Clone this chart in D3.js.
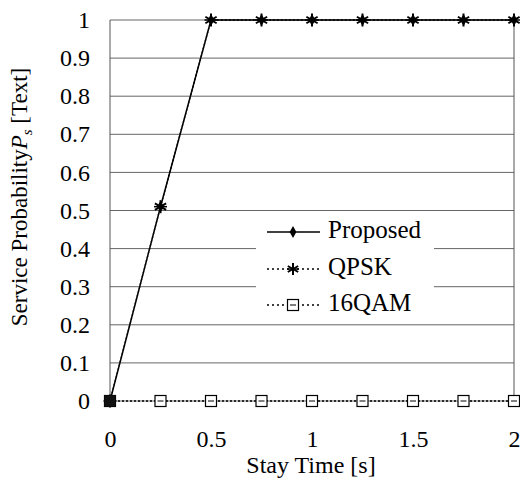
<!DOCTYPE html>
<html><head><meta charset="utf-8">
<script src="https://cdn.jsdelivr.net/npm/d3@7"></script>
<style>body{margin:0;background:#fff}svg{display:block}text{font-family:"Liberation Serif","Times New Roman",serif;fill:#000}</style>
</head><body><svg id="c" width="520" height="482"></svg>
<script>
const stayTime = [0, 0.25, 0.5, 0.75, 1, 1.25, 1.5, 1.75, 2];
const proposed = [0, 0.51, 1, 1, 1, 1, 1, 1, 1];
const qpsk = [0, 0.51, 1, 1, 1, 1, 1, 1, 1];
const qam16 = [0, 0, 0, 0, 0, 0, 0, 0, 0];
const xTicks = [0, 0.5, 1, 1.5, 2];
const yTicks = [0, 0.1, 0.2, 0.3, 0.4, 0.5, 0.6, 0.7, 0.8, 0.9, 1];
const seriesNames = ["Proposed", "QPSK", "16QAM"];

const svg = d3.select("#c");
const x = d3.scaleLinear().domain([0, 2]).range([110, 514]);
const y = d3.scaleLinear().domain([0, 1]).range([401, 20]);

// gridlines
svg.append("g").selectAll("line").data(yTicks).join("line")
  .attr("x1", x(0)).attr("x2", x(2)).attr("y1", d => y(d)).attr("y2", d => y(d))
  .attr("stroke", "#666").attr("stroke-width", 1);
svg.append("line").attr("x1", x(0)).attr("x2", x(0)).attr("y1", y(0)).attr("y2", y(1)).attr("stroke", "#555");
svg.append("line").attr("x1", x(2)).attr("x2", x(2)).attr("y1", y(0)).attr("y2", y(1)).attr("stroke", "#555");

// axes (labels only)
const yAxis = svg.append("g").attr("transform", `translate(${x(0)},0)`)
  .call(d3.axisLeft(y).tickValues(yTicks).tickSize(0).tickPadding(20).tickFormat(d3.format("~g")));
yAxis.select(".domain").remove();
yAxis.attr("font-family", null).attr("font-size", null);
yAxis.selectAll("text").style("font-size", "24px");
const xAxis = svg.append("g").attr("transform", `translate(0,${y(0)})`)
  .call(d3.axisBottom(x).tickValues(xTicks).tickSize(0).tickPadding(29).tickFormat(d3.format("~g")));
xAxis.select(".domain").remove();
xAxis.attr("font-family", null).attr("font-size", null);
xAxis.selectAll("text").style("font-size", "24px");

// titles
svg.append("text").attr("x", 311).attr("y", 473).attr("text-anchor", "middle").style("font-size", "24px").text("Stay Time [s]");
const yt = svg.append("text").attr("transform", "translate(27,197) rotate(-90)").attr("text-anchor", "middle").style("font-size", "23px");
yt.append("tspan").text("Service Probability");
yt.append("tspan").style("font-style", "italic").text("P");
yt.append("tspan").style("font-style", "italic").style("font-size", "15px").attr("dy", 5).text("s");
yt.append("tspan").attr("dy", -5).text(" [Text]");

const line = d3.line().x((d, i) => x(stayTime[i])).y(d => y(d));

function star(g, cx, cy, r) {
  const a = [0, 60, 120].map(t => t * Math.PI / 180);
  a.forEach(t => g.append("line").attr("x1", cx - r * Math.sin(t)).attr("y1", cy - r * Math.cos(t))
    .attr("x2", cx + r * Math.sin(t)).attr("y2", cy + r * Math.cos(t)).attr("stroke", "#000").attr("stroke-width", 2));
  g.append("line").attr("x1", cx - r).attr("x2", cx + r).attr("y1", cy).attr("y2", cy).attr("stroke", "#000").attr("stroke-width", 1.5);
}
function square(g, cx, cy) {
  g.append("rect").attr("x", cx - 5.5).attr("y", cy - 5.5).attr("width", 11).attr("height", 11)
    .attr("fill", "#fff").attr("stroke", "#000").attr("stroke-width", 1.2);
  g.append("line").attr("x1", cx - 3).attr("x2", cx + 3).attr("y1", cy).attr("y2", cy).attr("stroke", "#000");
}
function diamond(g, cx, cy) {
  g.append("path").attr("d", d3.symbol(d3.symbolDiamond, 40)()).attr("transform", `translate(${cx},${cy})`).attr("fill", "#000");
}

// 16QAM
svg.append("path").attr("d", line(qam16)).attr("fill", "none").attr("stroke", "#000").attr("stroke-width", 1.3).attr("stroke-dasharray", "2,2");
const gq = svg.append("g");
qam16.forEach((v, i) => square(gq, x(stayTime[i]), y(v)));
// QPSK
svg.append("path").attr("d", line(qpsk)).attr("fill", "none").attr("stroke", "#000").attr("stroke-width", 1.3).attr("stroke-dasharray", "2,2");
// Proposed
svg.append("path").attr("d", line(proposed)).attr("fill", "none").attr("stroke", "#000").attr("stroke-width", 1.5);
const gp = svg.append("g");
proposed.forEach((v, i) => diamond(gp, x(stayTime[i]), y(v)));
const gs = svg.append("g");
qpsk.forEach((v, i) => star(gs, x(stayTime[i]), y(v), 6.5));
svg.append("rect").attr("x", x(0) - 5.5).attr("y", y(0) - 5.5).attr("width", 11).attr("height", 11).attr("fill", "#111");

// legend
const lg = svg.append("g");
lg.append("rect").attr("x", 256).attr("y", 212).attr("width", 178).attr("height", 92).attr("fill", "#fff");
const ly = [232, 269, 305];
seriesNames.forEach((n, i) => {
  const yy = ly[i];
  lg.append("line").attr("x1", 267).attr("x2", 320).attr("y1", yy).attr("y2", yy).attr("stroke", "#000")
    .attr("stroke-width", i === 0 ? 1.5 : 1.3).attr("stroke-dasharray", i === 0 ? null : "2,3");
  if (i === 0) diamond(lg, 293, yy);
  else if (i === 1) star(lg, 293, yy, 6);
  else square(lg, 293, yy);
  lg.append("text").attr("x", 328).attr("y", yy + 6).style("font-size", "25px").text(n);
});
</script></body></html>
